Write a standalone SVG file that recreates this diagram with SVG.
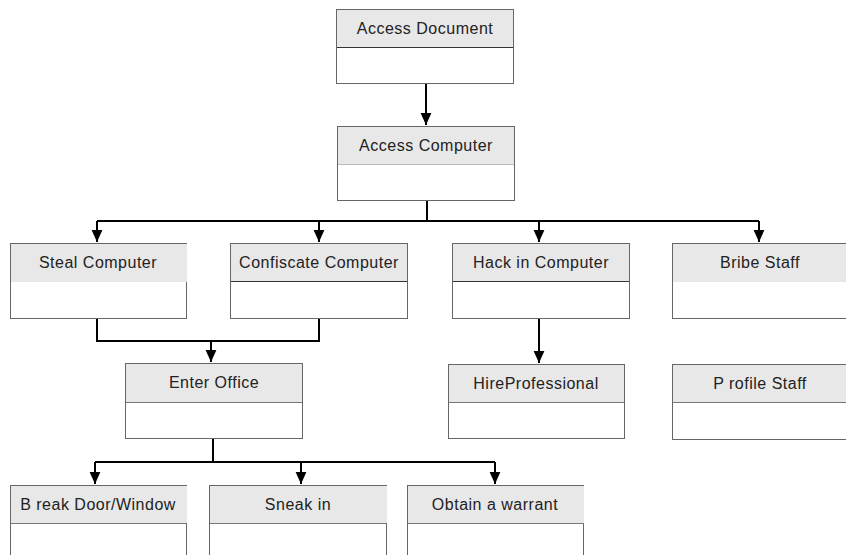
<svg xmlns="http://www.w3.org/2000/svg" width="846" height="555" viewBox="0 0 846 555">
  <defs>
    <style>
      .box { fill: #ffffff; stroke: #666666; stroke-width: 1; }
      .hdr { fill: #e8e8e8; stroke: none; }
      .div { stroke: #777777; stroke-width: 1; }
      .divd { stroke: #333333; stroke-width: 1; }
      .lbl { font-family: "Liberation Sans", Arial, sans-serif; font-size: 16px; letter-spacing: 0.5px; fill: #222222; text-anchor: middle; }
      .con { fill: none; stroke: #000000; stroke-width: 2; }
    </style>
    <marker id="arr" markerUnits="userSpaceOnUse" markerWidth="12" markerHeight="12" viewBox="0 0 10 10" refX="10" refY="5" orient="auto">
      <path d="M0,0.5 L10,5 L0,9.5 Z" fill="#000000"/>
    </marker>
  </defs>
  <rect width="846" height="555" fill="#ffffff"/>

  <g id="connectors">
    <path class="con" d="M426,83 V125" marker-end="url(#arr)"/>
    <path class="con" d="M427,201 V221"/>
    <path class="con" d="M97,221 H759"/>
    <path class="con" d="M97,221 V242" marker-end="url(#arr)"/>
    <path class="con" d="M319,221 V242" marker-end="url(#arr)"/>
    <path class="con" d="M539,221 V242" marker-end="url(#arr)"/>
    <path class="con" d="M759,221 V242" marker-end="url(#arr)"/>
    <path class="con" d="M97,318 V341 H319 V318"/>
    <path class="con" d="M211,341 V362" marker-end="url(#arr)"/>
    <path class="con" d="M539,318 V363" marker-end="url(#arr)"/>
    <path class="con" d="M213,439 V462"/>
    <path class="con" d="M95,462 H495"/>
    <path class="con" d="M95,462 V484" marker-end="url(#arr)"/>
    <path class="con" d="M301,462 V484" marker-end="url(#arr)"/>
    <path class="con" d="M495,462 V484" marker-end="url(#arr)"/>
  </g>

  <g id="access-document">
    <rect class="box" x="336.5" y="9.5" width="177" height="74"/>
    <rect class="hdr" x="337" y="10" width="176" height="37"/>
    <line class="divd" x1="337" y1="47.5" x2="513" y2="47.5"/>
    <text class="lbl" x="425" y="34">Access Document</text>
  </g>

  <g id="access-computer">
    <rect class="box" x="337.5" y="126.5" width="177" height="74"/>
    <rect class="hdr" x="338" y="127" width="176" height="37"/>
    <line class="div" x1="338" y1="164.5" x2="514" y2="164.5" stroke-opacity="0.5"/>
    <text class="lbl" x="426" y="151">Access Computer</text>
  </g>

  <g id="steal-computer">
    <rect class="box" x="10.5" y="243.5" width="176" height="75"/>
    <rect class="hdr" x="11" y="244" width="176" height="38"/>
    <text class="lbl" x="98" y="268">Steal Computer</text>
  </g>

  <g id="confiscate-computer">
    <rect class="box" x="230.5" y="243.5" width="177" height="75"/>
    <rect class="hdr" x="231" y="244" width="176" height="37"/>
    <line class="divd" x1="231" y1="281.5" x2="407" y2="281.5"/>
    <text class="lbl" x="319" y="268">Confiscate Computer</text>
  </g>

  <g id="hack-in-computer">
    <rect class="box" x="452.5" y="243.5" width="177" height="75"/>
    <rect class="hdr" x="453" y="244" width="176" height="37"/>
    <line class="divd" x1="453" y1="281.5" x2="629" y2="281.5"/>
    <text class="lbl" x="541" y="268">Hack in Computer</text>
  </g>

  <g id="bribe-staff">
    <rect class="box" x="672.5" y="243.5" width="177" height="75"/>
    <rect class="hdr" x="673" y="244" width="176" height="38"/>
    <text class="lbl" x="760" y="268">Bribe Staff</text>
  </g>

  <g id="enter-office">
    <rect class="box" x="125.5" y="363.5" width="177" height="75"/>
    <rect class="hdr" x="126" y="364" width="176" height="38"/>
    <line class="div" x1="126" y1="402.5" x2="302" y2="402.5"/>
    <text class="lbl" x="214" y="388">Enter Office</text>
  </g>

  <g id="hire-professional">
    <rect class="box" x="448.5" y="364.5" width="176" height="74"/>
    <rect class="hdr" x="449" y="365" width="175" height="37"/>
    <line class="div" x1="449" y1="402.5" x2="624" y2="402.5"/>
    <text class="lbl" x="536" y="389">HireProfessional</text>
  </g>

  <g id="profile-staff">
    <rect class="box" x="672.5" y="364.5" width="177" height="75"/>
    <rect class="hdr" x="673" y="365" width="176" height="37"/>
    <line class="div" x1="673" y1="402.5" x2="849" y2="402.5"/>
    <text class="lbl" x="760" y="389">P rofile Staff</text>
  </g>

  <g id="break-door-window">
    <rect class="box" x="10.5" y="485.5" width="176" height="80"/>
    <rect class="hdr" x="11" y="486" width="176" height="37"/>
    <line class="div" x1="11" y1="523.5" x2="187" y2="523.5"/>
    <text class="lbl" x="98" y="510">B reak Door/Window</text>
  </g>

  <g id="sneak-in">
    <rect class="box" x="209.5" y="485.5" width="177" height="80"/>
    <rect class="hdr" x="210" y="486" width="177" height="37"/>
    <line class="div" x1="210" y1="523.5" x2="387" y2="523.5"/>
    <text class="lbl" x="298" y="510">Sneak in</text>
  </g>

  <g id="obtain-a-warrant">
    <rect class="box" x="407.5" y="485.5" width="176" height="80"/>
    <rect class="hdr" x="408" y="486" width="176" height="37"/>
    <line class="div" x1="408" y1="523.5" x2="584" y2="523.5"/>
    <text class="lbl" x="495" y="510">Obtain a warrant</text>
  </g>
</svg>
